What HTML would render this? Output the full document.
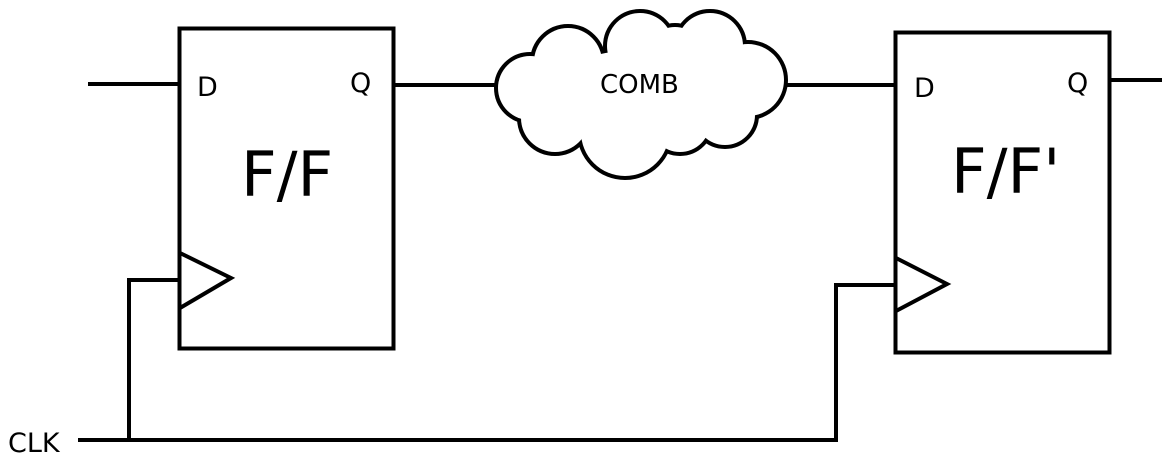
<!DOCTYPE html>
<html><head><style>
html,body{margin:0;padding:0;background:#fff;}
svg{display:block;}
text{font-family:"DejaVu Sans","Liberation Sans",sans-serif;fill:#000;}
</style></head><body>
<svg width="1175" height="472" viewBox="0 0 1175 472" xmlns="http://www.w3.org/2000/svg">
<defs>
<g id="cl">
<circle cx="530" cy="88" r="32"/>
<circle cx="568" cy="62" r="34"/>
<circle cx="640" cy="46" r="33"/>
<circle cx="675" cy="55" r="28"/>
<circle cx="710" cy="46" r="33"/>
<circle cx="748" cy="80" r="36"/>
<circle cx="725" cy="115" r="30"/>
<circle cx="680" cy="122" r="30"/>
<circle cx="625" cy="132" r="44"/>
<circle cx="555" cy="118" r="34"/>
<circle cx="600" cy="95" r="35"/>
<ellipse cx="640" cy="90" rx="90" ry="40"/>
</g>
</defs>
<g fill="none" stroke="#000" stroke-width="4">
<rect x="179.5" y="28.5" width="214" height="320"/>
<rect x="895.5" y="32.5" width="214" height="320"/>
<line x1="88" y1="84" x2="180" y2="84"/>
<line x1="394" y1="85" x2="510" y2="85"/>
<line x1="770" y1="85" x2="896" y2="85"/>
<line x1="1110" y1="80" x2="1162" y2="80"/>
<polyline points="180,253 231,278 180,308"/>
<polyline points="896,258 947,284 896,311"/>
<polyline points="180,280 129,280 129,440"/>
<polyline points="78,440 836,440 836,285 896,285"/>
</g>
<use href="#cl" stroke="#000" stroke-width="8" fill="#000"/>
<use href="#cl" fill="#fff"/>
<text x="197" y="96" font-size="27">D</text>
<text x="350" y="92" font-size="27">Q</text>
<text x="241" y="196" font-size="62">F/F</text>
<text x="914" y="97" font-size="27">D</text>
<text x="1067" y="92" font-size="27">Q</text>
<text x="951" y="193" font-size="62">F/F'</text>
<text x="600" y="93" font-size="26">COMB</text>
<text x="8" y="452" font-size="27">CLK</text>
</svg>
</body></html>
